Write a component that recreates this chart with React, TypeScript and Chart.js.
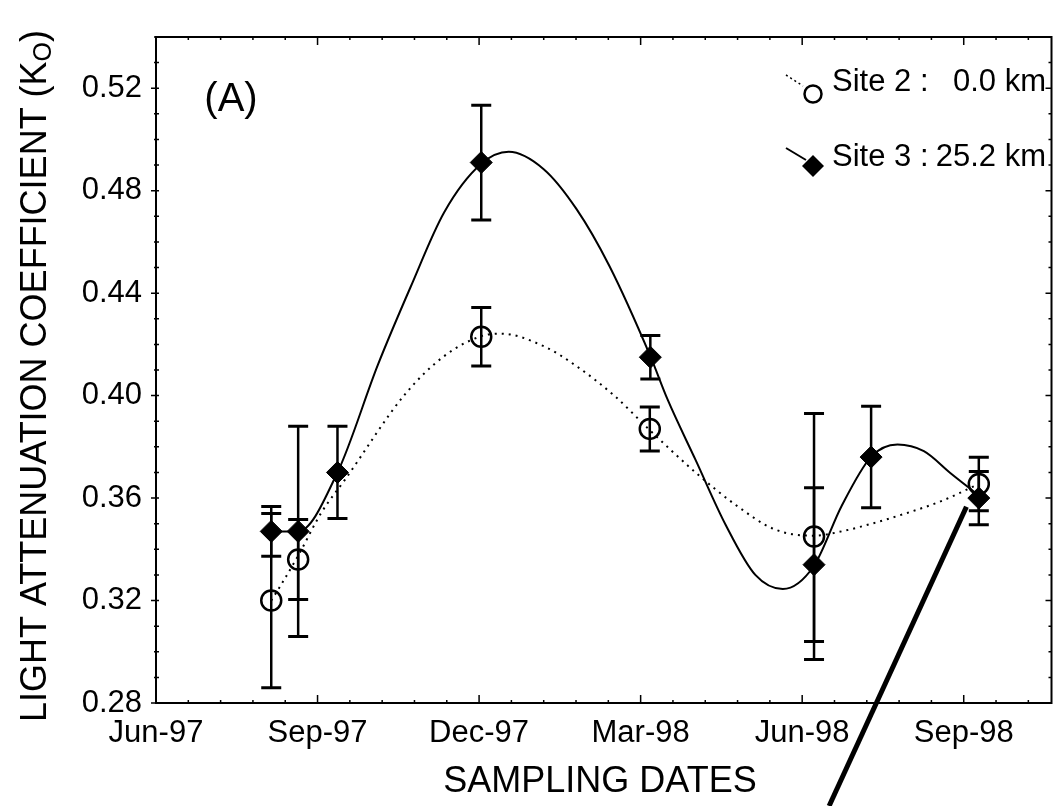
import React, { useEffect, useRef } from 'react';
import { Chart, registerables } from 'chart.js';

Chart.register(...registerables);

// ---- axis ticks ----
const xTickMonths = [0, 3, 6, 9, 12, 15]; // months after 1 Jun 1997
const xTickLabels = ['Jun-97', 'Sep-97', 'Dec-97', 'Mar-98', 'Jun-98', 'Sep-98'];
const yTickValues = [0.28, 0.32, 0.36, 0.4, 0.44, 0.48, 0.52];

// ---- Site 2 : 0.0 km (open circles, dotted fit) ----
const site2Months = [2.14, 2.64, 6.04, 9.17, 12.22, 15.28];
const site2Values = [0.32, 0.336, 0.423, 0.387, 0.345, 0.3655];
const site2Errors = [0.034, 0.0156, 0.0114, 0.0086, 0.048, 0.0104];

// ---- Site 3 : 25.2 km (filled diamonds, solid fit) ----
const site3Months = [2.14, 2.64, 3.37, 6.04, 9.18, 12.22, 13.28, 15.28];
const site3Values = [0.347, 0.347, 0.37, 0.491, 0.415, 0.334, 0.376, 0.36];
const site3Errors = [0.0097, 0.041, 0.018, 0.0224, 0.0085, 0.03, 0.0198, 0.0104];

// ---- fitted curves ----
const site3FitMonths = [2.14, 2.64, 3.37, 4.12, 4.73, 5.35, 6.04, 6.55, 7.2, 7.81, 8.42, 9.18, 9.5, 10.02, 10.58, 11.13, 11.64, 12.22, 12.73, 13.28, 13.77, 14.26, 14.75, 15.28];
const site3FitValues = [0.347, 0.347, 0.37, 0.412, 0.4425, 0.4715, 0.4905, 0.4952, 0.4884, 0.4728, 0.4506, 0.4154, 0.3985, 0.3749, 0.3495, 0.33, 0.3245, 0.3336, 0.3568, 0.3761, 0.3809, 0.3783, 0.3698, 0.361];

const site2FitMonths = [2.14, 2.31, 2.65, 3.07, 3.51, 4.62, 5.35, 6.04, 6.4, 7.2, 7.81, 8.52, 9.16, 10.02, 10.76, 11.5, 12.22, 12.73, 13.34, 13.95, 14.57, 15.28];
const site2FitValues = [0.32, 0.3257, 0.3379, 0.3543, 0.3672, 0.4004, 0.4154, 0.4232, 0.4242, 0.4193, 0.4115, 0.3998, 0.3867, 0.37, 0.3574, 0.3477, 0.3453, 0.347, 0.3503, 0.3542, 0.3587, 0.3655];

// ---- pointer line annotation (data coords) ----
const pointerFrom = [15.05, 0.3566];
const pointerTo = [12.5, 0.2398];

const FONT = '"Liberation Sans", Arial, Helvetica, sans-serif';

const decorPlugin = {
  id: 'decor',
  beforeDatasetsDraw(chart: any) {
    const ctx = chart.ctx;
    const xs = chart.scales.x;
    const ys = chart.scales.y;
    ctx.save();
    ctx.strokeStyle = '#000';
    const drawBars = (months: number[], values: number[], errs: number[]) => {
      months.forEach((m, i) => {
        const x = xs.getPixelForValue(m);
        const yt = ys.getPixelForValue(values[i] + errs[i]);
        const yb = ys.getPixelForValue(values[i] - errs[i]);
        ctx.lineWidth = 2.5;
        ctx.beginPath();
        ctx.moveTo(x, yt);
        ctx.lineTo(x, yb);
        ctx.stroke();
        ctx.lineWidth = 3;
        ctx.beginPath();
        ctx.moveTo(x - 10, yt);
        ctx.lineTo(x + 10, yt);
        ctx.moveTo(x - 10, yb);
        ctx.lineTo(x + 10, yb);
        ctx.stroke();
      });
    };
    drawBars(site2Months, site2Values, site2Errors);
    drawBars(site3Months, site3Values, site3Errors);
    ctx.restore();
  },
  afterDraw(chart: any) {
    const ctx = chart.ctx;
    const xs = chart.scales.x;
    const ys = chart.scales.y;
    const a = chart.chartArea;
    ctx.save();
    ctx.strokeStyle = '#000';
    ctx.fillStyle = '#000';

    // frame
    ctx.lineWidth = 2;
    ctx.strokeRect(a.left, a.top, a.right - a.left, a.bottom - a.top);

    // x ticks (inward, bottom & top)
    ctx.lineWidth = 1.5;
    ctx.beginPath();
    for (let m = 0; m <= xs.max + 1e-6; m += 0.6) {
      const x = xs.getPixelForValue(m);
      const major = Math.abs(m / 3 - Math.round(m / 3)) < 1e-6;
      const len = major ? 8 : 3;
      ctx.moveTo(x, a.bottom);
      ctx.lineTo(x, a.bottom - len);
      ctx.moveTo(x, a.top);
      ctx.lineTo(x, a.top + len);
    }
    // y ticks
    for (let v = 0.28; v <= 0.54 + 1e-6; v += 0.01) {
      const y = ys.getPixelForValue(v);
      const major = yTickValues.some((t) => Math.abs(t - v) < 1e-6);
      ctx.moveTo(a.left - (major ? 5 : 2), y);
      ctx.lineTo(a.left + 3, y);
      ctx.moveTo(a.right, y);
      ctx.lineTo(a.right - (major ? 6 : 3), y);
    }
    ctx.stroke();

    // x title
    ctx.textAlign = 'center';
    ctx.textBaseline = 'middle';
    ctx.font = `36px ${FONT}`;
    ctx.fillText('SAMPLING DATES', 600, 782);

    // y title with subscript
    ctx.save();
    ctx.translate(36, 376);
    ctx.rotate(-Math.PI / 2);
    ctx.textAlign = 'left';
    const mainTxt = 'LIGHT ATTENUATION COEFFICIENT (K';
    ctx.font = `36px ${FONT}`;
    const w1 = ctx.measureText(mainTxt).width;
    const w3 = ctx.measureText(')').width;
    ctx.font = `25px ${FONT}`;
    const w2 = ctx.measureText('O').width;
    const start = -(w1 + w2 + w3) / 2;
    ctx.font = `36px ${FONT}`;
    ctx.fillText(mainTxt, start, 0);
    ctx.font = `25px ${FONT}`;
    ctx.fillText('O', start + w1, 8);
    ctx.font = `36px ${FONT}`;
    ctx.fillText(')', start + w1 + w2, 0);
    ctx.restore();

    // panel label
    ctx.textAlign = 'center';
    ctx.font = `40px ${FONT}`;
    ctx.fillText('(A)', 231, 100);

    // legend
    ctx.font = `31px ${FONT}`;
    ctx.textBaseline = 'middle';
    // site 2
    ctx.lineWidth = 1.5;
    ctx.setLineDash([2, 3]);
    ctx.beginPath();
    ctx.moveTo(786, 75);
    ctx.lineTo(803, 86);
    ctx.stroke();
    ctx.setLineDash([]);
    ctx.lineWidth = 2.5;
    ctx.beginPath();
    ctx.arc(813, 94, 8.5, 0, Math.PI * 2);
    ctx.stroke();
    ctx.textAlign = 'left';
    ctx.fillText('Site 2 :', 832, 82);
    ctx.textAlign = 'right';
    ctx.fillText('0.0 km', 1046, 82);
    // site 3
    ctx.lineWidth = 2;
    ctx.beginPath();
    ctx.moveTo(786, 148);
    ctx.lineTo(806, 160);
    ctx.stroke();
    ctx.beginPath();
    ctx.moveTo(802, 166);
    ctx.lineTo(813, 155);
    ctx.lineTo(824, 166);
    ctx.lineTo(813, 177);
    ctx.closePath();
    ctx.fill();
    ctx.textAlign = 'left';
    ctx.fillText('Site 3 :', 832, 157);
    ctx.textAlign = 'right';
    ctx.fillText('25.2 km', 1046, 157);

    // pointer line
    ctx.lineWidth = 5;
    ctx.beginPath();
    ctx.moveTo(xs.getPixelForValue(pointerFrom[0]), ys.getPixelForValue(pointerFrom[1]));
    ctx.lineTo(xs.getPixelForValue(pointerTo[0]), ys.getPixelForValue(pointerTo[1]));
    ctx.stroke();

    ctx.restore();
  },
};

export default function App() {
  const canvasRef = useRef<HTMLCanvasElement | null>(null);

  useEffect(() => {
    document.body.style.margin = '0';
    document.body.style.overflow = 'hidden';
    const canvas = canvasRef.current;
    if (!canvas) return;
    const toXY = (xsArr: number[], ysArr: number[]) => xsArr.map((x, i) => ({ x, y: ysArr[i] }));

    const chart = new Chart(canvas, {
      type: 'scatter',
      data: {
        datasets: [
          {
            label: 'Site 3 : 25.2 km',
            data: toXY(site3Months, site3Values),
            pointStyle: 'rectRot',
            pointRadius: 11,
            backgroundColor: '#000',
            borderColor: '#000',
            borderWidth: 1,
            showLine: false,
          },
          {
            label: 'Site 2 : 0.0 km',
            data: toXY(site2Months, site2Values),
            pointStyle: 'circle',
            pointRadius: 10,
            backgroundColor: 'rgba(0,0,0,0)',
            borderColor: '#000',
            borderWidth: 2.5,
            showLine: false,
          },
          {
            label: 'Site 3 fit',
            data: toXY(site3FitMonths, site3FitValues),
            showLine: true,
            pointRadius: 0,
            borderColor: '#000',
            borderWidth: 2,
            cubicInterpolationMode: 'monotone',
            fill: false,
          },
          {
            label: 'Site 2 fit',
            data: toXY(site2FitMonths, site2FitValues),
            showLine: true,
            pointRadius: 0,
            borderColor: '#000',
            borderWidth: 2,
            borderDash: [2, 5],
            cubicInterpolationMode: 'monotone',
            fill: false,
          },
        ],
      } as any,
      options: {
        animation: false,
        responsive: false,
        events: [],
        layout: { padding: { left: 0, right: 6, top: 37, bottom: 0 } },
        plugins: {
          legend: { display: false },
          tooltip: { enabled: false },
          title: { display: false },
        },
        scales: {
          x: {
            type: 'linear',
            min: 0,
            max: 16.63,
            grid: { display: false, drawTicks: false },
            border: { display: false },
            afterBuildTicks: (s: any) => {
              s.ticks = xTickMonths.map((v) => ({ value: v }));
            },
            afterFit: (s: any) => {
              s.height = 103;
            },
            ticks: {
              autoSkip: false,
              maxRotation: 0,
              minRotation: 0,
              padding: 12,
              color: '#000',
              font: { size: 31, family: FONT },
              callback: (v: any) => {
                const i = xTickMonths.findIndex((t) => Math.abs(t - Number(v)) < 1e-6);
                return i >= 0 ? xTickLabels[i] : '';
              },
            },
          },
          y: {
            type: 'linear',
            min: 0.28,
            max: 0.54,
            grid: { display: false, drawTicks: false },
            border: { display: false },
            afterBuildTicks: (s: any) => {
              s.ticks = yTickValues.map((v) => ({ value: v }));
            },
            afterFit: (s: any) => {
              s.width = 156;
            },
            ticks: {
              autoSkip: false,
              padding: 14,
              color: '#000',
              font: { size: 31, family: FONT },
              callback: (v: any) => Number(v).toFixed(2),
            },
          },
        },
      } as any,
      plugins: [decorPlugin],
    });

    return () => {
      chart.destroy();
    };
  }, []);

  return (
    <div style={{ width: 1064, height: 806 }}>
      <canvas ref={canvasRef} width={1064} height={806} style={{ display: 'block', width: 1064, height: 806 }} />
    </div>
  );
}
